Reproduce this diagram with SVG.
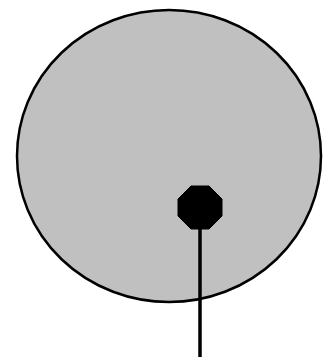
<svg xmlns="http://www.w3.org/2000/svg" width="323" height="362" viewBox="0 0 323 362">
<style>
.body{fill:#c0c0c0;stroke:#000;stroke-width:2.5}
.dot{fill:#000;stroke:#000;stroke-width:1}
.wire{stroke:#000;stroke-width:3.5;fill:none}
</style>
<rect width="323" height="362" fill="#fff"/>
<g id="body">
<ellipse class="body" cx="169" cy="156" rx="152" ry="146"/>
</g>
<g id="connectors">
<line class="wire" x1="200" y1="210" x2="200" y2="357"/>
</g>
<g id="dot">
<polygon class="dot" points="209,186 222,199 222,216 209,229 191,229 178,216 178,199 191,186"/>
</g>
</svg>
